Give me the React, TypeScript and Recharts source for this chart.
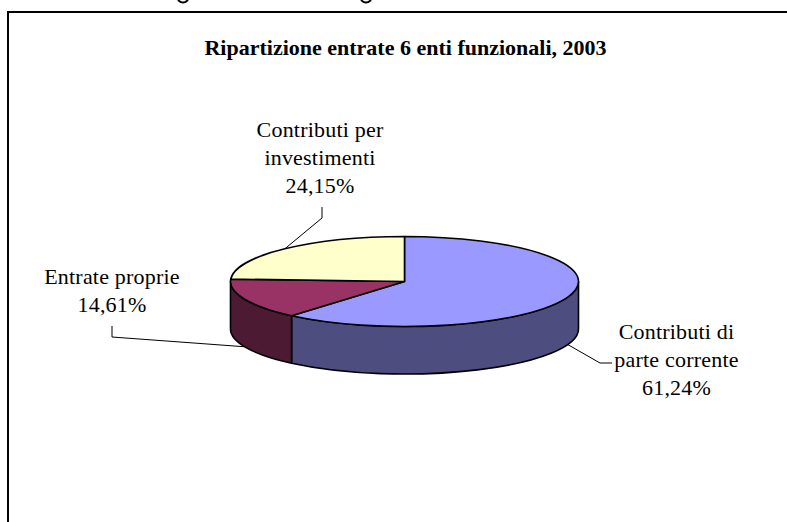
import React from "react";
import { Pie, PieChart } from "recharts";

const categories = ["Contributi di parte corrente", "Entrate proprie", "Contributi per investimenti"];
const values = [61.24, 14.61, 24.15];
const topColors = ["#9999FF", "#993366", "#FFFFCC"];
const sideColors = ["#4D4D80", "#4D1A33", "#80806A"];
const labelLines = [
  ["Contributi di", "parte corrente", "61,24%"],
  ["Entrate proprie", "14,61%"],
  ["Contributi per", "investimenti", "24,15%"],
];

const TITLE = "Ripartizione entrate 6 enti funzionali, 2003";
const SERIF = "'Liberation Serif', serif";
const SQUASH = 45 / 174;
const DEPTH = 47.5;

// where each label sits, and the elbow of its leader line
const labelPos = [
  { x: 676.5, y: 339, elbow: [[600, 363], [612, 363]] },
  { x: 112, y: 284, elbow: [[112, 337], [112, 326]] },
  { x: 320, y: 137, elbow: [[322, 218], [322, 207]] },
];

const data = categories.map((name, i) => ({
  name,
  value: values[i],
  fill: topColors[i],
  side: sideColors[i],
}));

const rim = (cx: number, cy: number, r: number, deg: number) => {
  const a = (deg * Math.PI) / 180;
  return [cx + r * Math.cos(a), cy - r * SQUASH * Math.sin(a)];
};

function Slice3D(props: any) {
  const { cx, cy, outerRadius: r, startAngle, endAngle, fill, payload } = props;
  const ry = r * SQUASH;
  const hi = Math.max(startAngle, endAngle);
  const lo = Math.min(startAngle, endAngle);
  const [x1, y1] = rim(cx, cy, r, hi);
  const [x2, y2] = rim(cx, cy, r, lo);
  const large = hi - lo > 180 ? 1 : 0;
  const top = `M${cx},${cy} L${x1},${y1} A${r},${ry} 0 ${large} 1 ${x2},${y2} Z`;

  // only the part of the rim facing the viewer gets a wall
  const wallHi = Math.min(hi, 0);
  const wallLo = Math.max(lo, -180);
  let wall = null;
  if (wallHi > wallLo) {
    const [wx1, wy1] = rim(cx, cy, r, wallHi);
    const [wx2, wy2] = rim(cx, cy, r, wallLo);
    wall = (
      <path
        d={`M${wx1},${wy1} A${r},${ry} 0 0 1 ${wx2},${wy2} L${wx2},${wy2 + DEPTH} A${r},${ry} 0 0 0 ${wx1},${wy1 + DEPTH} Z`}
        fill={payload.side}
        stroke="#000"
        strokeWidth={1.6}
        strokeLinejoin="round"
      />
    );
  }
  return (
    <g>
      {wall}
      <path d={top} fill={fill} stroke="#000" strokeWidth={1.6} strokeLinejoin="round" />
    </g>
  );
}

function SliceLabel(props: any) {
  const { cx, cy, outerRadius: r, startAngle, endAngle, index } = props;
  const mid = (startAngle + endAngle) / 2;
  const [sx, sy] = rim(cx, cy, r, mid);
  const front = Math.sin((mid * Math.PI) / 180) < 0;
  const pos = labelPos[index];
  const pts = [[sx, front ? sy + DEPTH : sy], ...pos.elbow];
  return (
    <g>
      <polyline points={pts.map((p) => p.join(",")).join(" ")} fill="none" stroke="#000" strokeWidth={1} />
      <text x={pos.x} textAnchor="middle" fontFamily={SERIF} fontSize={22} letterSpacing={0.2} fill="#000">
        {labelLines[index].map((line, i) => (
          <tspan key={i} x={pos.x} y={pos.y + i * 28}>
            {line}
          </tspan>
        ))}
      </text>
    </g>
  );
}

export default function App() {
  return (
    <div style={{ position: "absolute", left: 0, top: 0, width: 787, height: 522, overflow: "hidden", background: "#fff" }}>
      <div
        style={{
          position: "absolute",
          left: 7,
          top: 11,
          width: 790,
          height: 530,
          border: "2px solid #000",
          boxSizing: "border-box",
        }}
      />
      <PieChart width={787} height={522} margin={{ top: 0, right: 0, bottom: 0, left: 0 }} style={{ position: "absolute", left: 0, top: 0 }}>
        {/* bits of the caption cut off above the frame */}
        <path d="M178,0 Q183,5 188,0" fill="none" stroke="#000" strokeWidth={2} />
        <path d="M361,0 Q366,5 371,0" fill="none" stroke="#000" strokeWidth={2} />
        <text
          x={405.5}
          y={55}
          textAnchor="middle"
          fontFamily={SERIF}
          fontSize={22}
          fontWeight="bold"
          fill="#000"
        >
          {TITLE}
        </text>
        <Pie
          data={data}
          dataKey="value"
          nameKey="name"
          cx={404.5}
          cy={281.5}
          innerRadius={0}
          outerRadius={174}
          startAngle={90}
          endAngle={-270}
          shape={Slice3D}
          label={SliceLabel}
          labelLine={false}
          isAnimationActive={false}
        />
      </PieChart>
    </div>
  );
}
